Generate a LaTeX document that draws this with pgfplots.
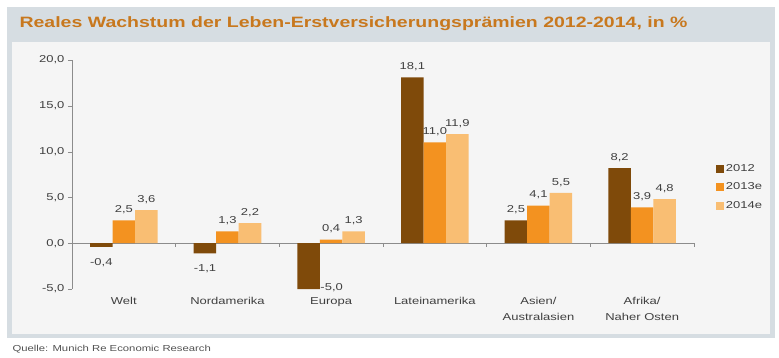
\documentclass[border=0pt]{standalone}
\usepackage{pgfplots}
\pgfplotsset{compat=1.18}
\usepackage{fontspec}
\setmainfont[FakeStretch=1.3]{Liberation Sans}
\definecolor{c12}{HTML}{7F4A0A}
\definecolor{c13}{HTML}{F39220}
\definecolor{c14}{HTML}{F9BE73}
\definecolor{frame}{HTML}{D6DDE2}
\definecolor{panel}{HTML}{F5F5F5}
\definecolor{titlec}{HTML}{C8781E}
\definecolor{txt}{HTML}{404040}
\definecolor{axc}{HTML}{8C8C8C}
\begin{document}
\begin{tikzpicture}[x=1pt,y=1pt]
\path[use as bounding box] (0,0) rectangle (779,357);
\fill[frame] (7,19) rectangle (775,350);
\fill[panel] (12,23) rectangle (770,315);
\node[anchor=west,text=titlec,font=\fontsize{15}{15}\selectfont\bfseries] at (16,333) {Reales Wachstum der Leben-Erstversicherungsprämien 2012-2014, in \%};
\node[anchor=west,text=txt!90,font=\fontsize{8.7}{9}\selectfont] at (9,8) {Quelle: Munich Re Economic Research};
\begin{axis}[
  at={(72pt,68pt)}, anchor=south west,
  scale only axis, width=622pt, height=229pt,
  ymin=-5, ymax=20, ytick={-5,0,5,10,15,20},
  xmin=-0.5, xmax=5.5,
  xtick={0,1,2,3,4,5},
  xticklabels={Welt,Nordamerika,Europa,Lateinamerika,{Asien/\\Australasien},{Afrika/\\Naher Osten}},
  xticklabel style={align=center, text=txt, font=\fontsize{10}{15.5}\selectfont, yshift=-1pt},
  yticklabel style={text=txt, font=\fontsize{10}{11}\selectfont},
  /pgf/number format/fixed, /pgf/number format/fixed zerofill, /pgf/number format/precision=1,
  /pgf/number format/use comma, /pgf/number format/assume math mode=true,
  axis y line*=left, axis x line*=bottom,
  x axis line style={draw=none},
  major x tick style={draw=none},
  y axis line style={axc},
  major y tick style={axc},
  tick align=outside, major tick length=4pt,
  ybar=0pt, bar width=22.5pt,
  nodes near coords,
  visualization depends on=rawy \as \ry,
  every node near coord/.append style={text=txt, font=\fontsize{10}{11}\selectfont,
     xshift={(\ry<-4)*23}, yshift={(\ry<-4)*9 + (\ry>=0)*3 - (\ry<0)*(\ry>=-4)*8}},
  legend style={at={(1.035,0.445)}, anchor=west, draw=none, fill=none, font=\fontsize{10}{11}\selectfont, text=txt, row sep=6pt, inner sep=0pt,
     /tikz/every even column/.append style={column sep=0pt}},
  legend image code/.code={\fill[#1] (0pt,-4pt) rectangle (8pt,4pt);},
  legend cell align=left,
  clip=false,
]
\draw[axc] (axis cs:-0.5,0) -- (axis cs:5.5,0);
\pgfplotsinvokeforeach{0.5,1.5,2.5,3.5,4.5,5.5}{\draw[axc] (axis cs:#1,0) -- ([yshift=-4pt]axis cs:#1,0);}
\addplot[fill=c12, draw=none] coordinates {(0,-0.4) (1,-1.1) (2,-5.0) (3,18.1) (4,2.5) (5,8.2)};
\addplot[fill=c13, draw=none] coordinates {(0,2.5) (1,1.3) (2,0.4) (3,11.0) (4,4.1) (5,3.9)};
\addplot[fill=c14, draw=none] coordinates {(0,3.6) (1,2.2) (2,1.3) (3,11.9) (4,5.5) (5,4.8)};
\legend{2012,2013e,2014e}
\end{axis}
\end{tikzpicture}
\end{document}
